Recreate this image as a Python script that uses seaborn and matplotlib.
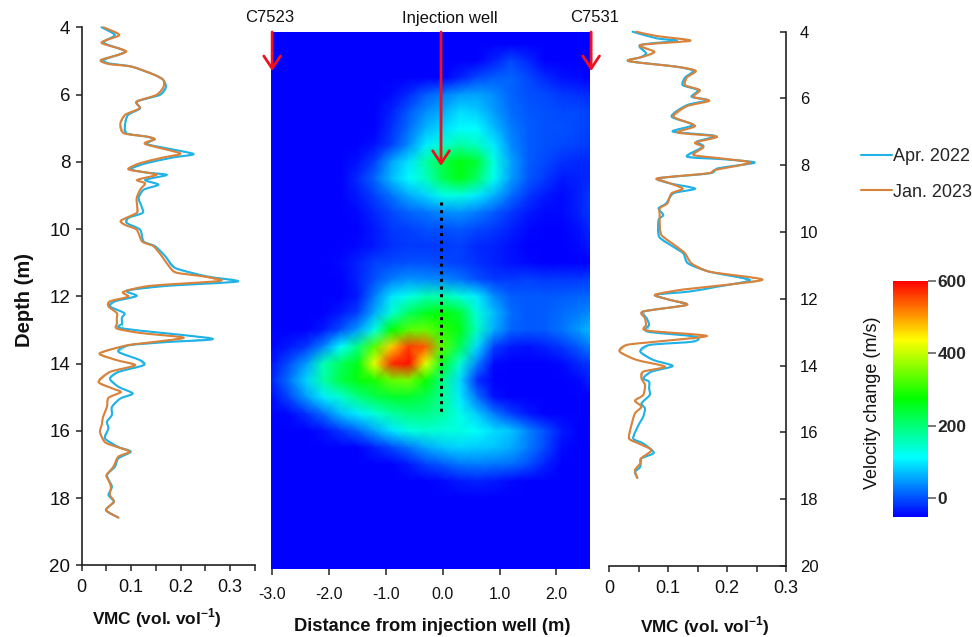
import numpy as np
import pandas as pd
import matplotlib
matplotlib.use("Agg")
import matplotlib.pyplot as plt
from matplotlib.colors import LinearSegmentedColormap
from matplotlib.lines import Line2D
from matplotlib.patches import PathPatch
from matplotlib.path import Path
from matplotlib.ticker import MultipleLocator, FuncFormatter
import seaborn as sns

# ---------- data ----------
APR = "Apr. 2022"
JAN = "Jan. 2023"

left_apr_depth = [4.00,4.23,4.46,4.72,4.97,5.07,5.17,5.42,5.57,5.78,6.01,6.21,6.41,6.60,6.85,7.15,7.25,7.33,7.47,7.60,7.77,7.87,8.04,8.22,8.32,8.39,8.54,8.68,8.83,9.08,9.33,9.52,9.67,9.82,10.02,10.37,10.51,10.81,11.16,11.41,11.56,11.69,11.83,11.99,12.15,12.30,12.50,12.64,12.81,12.96,13.26,13.36,13.46,13.65,13.90,14.05,14.25,14.45,14.69,14.89,15.04,15.29,15.53,15.73,15.93,16.23,16.48,16.62,16.82,17.07,17.32,17.66,17.91,18.11,18.36,18.58]
left_apr_vmc = [.040,.067,.044,.088,.044,.054,.101,.148,.165,.170,.158,.111,.118,.094,.088,.090,.131,.146,.131,.172,.226,.185,.131,.098,.131,.172,.128,.155,.125,.115,.121,.123,.094,.091,.118,.125,.148,.169,.189,.253,.315,.172,.091,.111,.067,.057,.086,.081,.082,.084,.264,.172,.094,.074,.118,.125,.074,.057,.074,.103,.078,.061,.061,.051,.054,.047,.074,.099,.074,.067,.051,.061,.054,.065,.049,.074]

left_jan_depth = [4.00,4.23,4.46,4.72,4.97,5.09,5.17,5.42,5.57,5.78,6.01,6.21,6.41,6.60,6.87,7.15,7.25,7.33,7.47,7.75,7.87,8.04,8.22,8.32,8.39,8.54,8.64,8.83,9.08,9.33,9.52,9.75,9.88,10.02,10.37,10.51,10.81,11.16,11.30,11.41,11.54,11.69,11.87,12.01,12.15,12.30,12.50,12.64,12.81,12.96,13.09,13.23,13.36,13.46,13.70,13.90,14.05,14.25,14.55,14.75,14.85,15.02,15.29,15.59,15.79,16.04,16.34,16.48,16.62,16.77,17.07,17.32,17.47,17.66,17.91,18.11,18.36,18.58]
left_jan_vmc = [.044,.076,.040,.090,.039,.054,.101,.148,.165,.165,.151,.111,.117,.088,.078,.085,.131,.148,.128,.199,.165,.118,.094,.131,.151,.112,.128,.118,.111,.112,.111,.079,.088,.111,.122,.145,.162,.179,.192,.246,.280,.138,.084,.094,.057,.054,.071,.071,.071,.071,.118,.206,.145,.091,.036,.071,.108,.057,.034,.064,.079,.054,.051,.043,.041,.037,.047,.071,.097,.074,.064,.050,.054,.059,.057,.065,.049,.074]

right_apr_depth = [4.00,4.20,4.27,4.40,4.65,4.77,4.88,5.05,5.17,5.37,5.60,5.75,5.95,6.05,6.20,6.54,6.79,6.99,7.12,7.29,7.44,7.74,7.82,7.92,8.09,8.24,8.39,8.54,8.70,8.84,9.14,9.29,9.49,9.64,10.14,10.44,10.64,10.94,11.19,11.44,11.64,11.78,11.88,12.03,12.18,12.38,12.58,12.78,12.98,13.13,13.28,13.38,13.58,13.83,14.01,14.18,14.38,14.48,14.68,14.88,15.13,15.28,15.53,15.78,16.18,16.33,16.61,16.78,17.03,17.18,17.36]
right_apr_vmc = [.040,.081,.115,.053,.063,.053,.033,.115,.143,.129,.125,.151,.140,.168,.132,.106,.143,.108,.180,.149,.160,.132,.194,.247,.185,.171,.084,.103,.146,.109,.097,.084,.092,.084,.085,.109,.126,.134,.171,.239,.182,.137,.078,.103,.132,.058,.064,.068,.065,.146,.143,.069,.053,.075,.108,.072,.058,.068,.068,.069,.055,.061,.058,.050,.041,.058,.076,.055,.053,.044,.048]

right_jan_depth = [4.00,4.13,4.27,4.40,4.60,4.75,4.88,5.05,5.17,5.37,5.60,5.75,5.95,6.07,6.23,6.54,6.82,7.02,7.14,7.32,7.46,7.69,7.79,7.92,8.14,8.24,8.39,8.52,8.70,8.84,9.14,9.29,9.54,9.74,10.09,10.44,10.64,10.94,11.19,11.42,11.59,11.72,11.88,12.03,12.18,12.38,12.58,12.78,12.95,13.11,13.28,13.38,13.58,13.83,14.03,14.18,14.38,14.58,14.88,15.05,15.23,15.43,15.78,16.18,16.33,16.53,16.78,16.93,17.13,17.36]
right_jan_vmc = [.046,.081,.138,.053,.077,.058,.033,.115,.147,.132,.129,.154,.143,.170,.132,.109,.146,.116,.183,.146,.160,.143,.188,.239,.180,.168,.082,.100,.125,.106,.099,.086,.086,.086,.089,.115,.129,.140,.171,.260,.194,.126,.078,.103,.132,.058,.061,.063,.064,.166,.081,.030,.018,.047,.095,.058,.055,.061,.058,.044,.055,.044,.038,.034,.050,.072,.054,.053,.044,.048]

dist_m = [-3.02,-2.7,-2.4,-2.1,-1.8,-1.5,-1.2,-0.9,-0.6,-0.3,0.0,0.3,0.6,0.9,1.2,1.5,1.8,2.1,2.4,2.59]
depth_m = [4.14,4.5,5,5.5,6,6.5,7,7.5,8,8.5,9,9.5,10,10.5,11,11.5,12,12.5,13,13.5,14,14.5,15,15.5,16,16.5,17,17.5,18,20.11]
velocity_change = [
 [-51]*20,
 [-51]*20,
 [-51,-51,-51,-51,-51,-51,-51,-51,-51,-51,-51,-51,-51,-30,-5,-25,-51,-51,-51,-51],
 [-51,-51,-51,-51,-51,-51,-51,-51,-51,-51,-51,-30,-5,10,15,-5,-25,-40,-45,-50],
 [-51,-51,-51,-51,-51,-51,-51,-45,-25,10,30,50,55,40,15,0,-5,-15,-20,-25],
 [-51,-51,-51,-51,-51,-51,-51,-30,5,40,60,90,80,50,20,5,0,-5,-5,-10],
 [-51,-51,-51,-51,-51,-51,-50,-20,20,65,90,110,110,70,30,10,0,0,-5,-10],
 [-51,-51,-51,-51,-51,-51,-40,-10,40,100,140,170,150,100,40,10,0,-5,-10,-15],
 [-51,-51,-51,-51,-51,-40,-10,55,95,170,230,265,240,130,55,10,-5,-20,-25,-25],
 [-51,-51,-51,-51,-50,-25,15,70,110,150,220,260,210,120,50,5,-15,-35,-30,-25],
 [-51,-51,-51,-51,-51,-35,-10,25,60,85,125,130,100,65,20,-15,-35,-45,-30,-15],
 [-51,-51,-51,-51,-51,-45,-25,-5,15,25,40,45,30,10,-15,-35,-45,-45,-30,-15],
 [-51,-51,-51,-51,-51,-51,-35,-15,-10,0,0,5,-5,-15,-30,-45,-50,-50,-40,-25],
 [-51,-51,-51,-51,-51,-45,-35,-20,-15,-15,-15,-10,-25,-30,-40,-50,-51,-51,-45,-35],
 [-51,-51,-51,-51,-45,-30,-10,-5,0,0,-5,-10,-20,-30,-40,-45,-50,-50,-50,-50],
 [-51,-51,-51,-51,-50,-30,0,30,45,40,35,25,0,-15,-15,-10,-15,-15,-15,-10],
 [-51,-51,-51,-51,-51,-35,30,95,125,160,165,135,100,40,10,5,5,10,15,15],
 [-51,-51,-51,-50,-35,-10,60,140,215,255,270,240,135,70,20,5,10,20,30,40],
 [-51,-51,-51,-35,0,50,130,270,330,340,300,260,150,60,15,5,10,25,50,70],
 [-50,-35,-15,35,110,190,330,470,560,540,330,220,90,-10,-35,-40,-30,-15,10,30],
 [-40,0,50,160,215,260,420,570,590,420,250,140,35,-45,-51,-51,-50,-45,-25,-15],
 [-30,25,85,170,230,265,290,340,350,280,190,90,-20,-51,-51,-51,-51,-51,-45,-30],
 [-45,-5,50,100,140,190,225,245,245,225,180,100,25,-40,-50,-51,-51,-51,-51,-51],
 [-51,-45,-20,20,70,100,135,170,190,190,170,125,80,30,-10,-35,-50,-51,-51,-51],
 [-51,-51,-51,-40,-15,15,55,95,130,140,135,130,115,90,75,35,0,-35,-51,-51],
 [-51,-51,-51,-51,-51,-51,-30,-5,25,55,75,85,80,75,60,30,-5,-45,-51,-51],
 [-51,-51,-51,-51,-51,-51,-51,-51,-35,-10,5,25,30,25,20,0,-30,-51,-51,-51],
 [-51,-51,-51,-51,-51,-51,-51,-51,-51,-51,-45,-35,-30,-35,-45,-51,-51,-51,-51,-51],
 [-51]*20,
 [-51]*20,
]

depth_ticks = [4,6,8,10,12,14,16,18,20]
dist_ticks = [-3,-2,-1,0,1,2]
cbar_ticks = [0,200,400,600]

# ---------- style ----------
sns.set_theme(style="white")
plt.rcParams["font.family"] = ["Liberation Sans", "DejaVu Sans"]
plt.rcParams["mathtext.fontset"] = "custom"
plt.rcParams["mathtext.bf"] = "Liberation Sans:bold"
plt.rcParams["mathtext.rm"] = "Liberation Sans"

W, H = 972, 637
INK = "#222222"
TXT = "#111111"
palette = {APR: "#1FB2E6", JAN: "#D9823B"}

fig = plt.figure(figsize=(W/100, H/100), dpi=100)

def px_axes(l, t, r, b):
    return fig.add_axes([l/W, 1-b/H, (r-l)/W, (b-t)/H])

def long_table(a_d, a_v, j_d, j_v):
    return pd.DataFrame({
        "depth": list(a_d)+list(j_d),
        "vmc": list(a_v)+list(j_v),
        "survey": [APR]*len(a_d)+[JAN]*len(j_d),
    })

def smooth_drawn_lines(ax):
    # Same measured vertices as the seaborn line, stroked with curved joins (no added data points).
    for i, line in enumerate(list(ax.get_lines())):
        p = line.get_xydata()
        verts = [p[0]]
        codes = [Path.MOVETO]
        for k in range(len(p)-1):
            a = p[max(k-1, 0)]
            b, c = p[k], p[k+1]
            d = p[min(k+2, len(p)-1)]
            verts += [b+(c-a)/8, c-(d-b)/8, c]
            codes += [Path.CURVE4]*3
        ax.add_patch(PathPatch(Path(verts, codes), fc="none", ec=line.get_color(), lw=1.5,
                               joinstyle="round", capstyle="round", zorder=3+i, clip_on=False))
        line.set_linewidth(0.4)
        line.set_zorder(1)

ax_l = px_axes(81.7, 27.3, 255, 565.3)
ax_h = px_axes(271, 32, 590, 569)
ax_r = px_axes(609, 31.7, 786, 566)
cax = px_axes(892.5, 280.7, 928, 516.7)

for ax, tab in ((ax_l, long_table(left_apr_depth, left_apr_vmc, left_jan_depth, left_jan_vmc)),
                (ax_r, long_table(right_apr_depth, right_apr_vmc, right_jan_depth, right_jan_vmc))):
    sns.lineplot(data=tab, x="vmc", y="depth", hue="survey", palette=palette, ax=ax,
                 sort=False, estimator=None, orient="y", lw=1.5, legend=False, clip_on=False)
    smooth_drawn_lines(ax)
    ax.set_ylim(20, 4)
    ax.set_yticks(depth_ticks)
    ax.xaxis.set_major_locator(MultipleLocator(0.1))
    ax.xaxis.set_minor_locator(MultipleLocator(0.05))
    ax.xaxis.set_major_formatter(FuncFormatter(lambda v, p: "0" if abs(v) < 1e-9 else f"{v:.1f}"))
    ax.set_xlabel("")
    ax.set_ylabel("")
    ax.tick_params(axis="x", which="both", bottom=True, direction="out", length=4, width=1.1,
                   color=INK, labelsize=13, labelcolor=TXT, pad=6)
    ax.spines["top"].set_visible(False)
    for s in ax.spines.values():
        s.set_color(INK)
        s.set_linewidth(1.2)
    ax.patch.set_alpha(0)

ax_l.set_xlim(0, 0.35)
ax_l.spines["right"].set_visible(False)
ax_l.tick_params(axis="y", left=True, direction="out", length=4.2, width=1.1, color=INK, pad=4,
                 labelsize=13.5, labelcolor=TXT)
ax_l.set_ylabel("Depth (m)", fontsize=14.5, fontweight="bold", color=TXT)
ax_l.yaxis.set_label_coords(-0.275, 0.493)

ax_r.set_xlim(0, 0.3)
ax_r.spines["left"].set_visible(False)
ax_r.yaxis.tick_right()
ax_r.tick_params(axis="y", right=True, left=False, direction="in", length=4.2, width=1.1, color=INK, pad=10,
                 labelsize=12, labelcolor=TXT)

vmc_label = r"VMC (vol. vol$^{\mathbf{-1}}$)"
fig.text(157/W, 1-618/H, vmc_label, ha="center", va="center", fontsize=12.4, fontweight="bold", color=TXT)
fig.text(704.5/W, 1-626/H, vmc_label, ha="center", va="center", fontsize=12.4, fontweight="bold", color=TXT)

# ---------- velocity-change field ----------
stops = LinearSegmentedColormap.from_list("vel", ["#0000ff", "#00ffff", "#00ff00", "#ffff00", "#ff0000"])
field = pd.DataFrame(velocity_change, index=depth_m, columns=dist_m)
mesh = ax_h.pcolormesh(field.columns.values, field.index.values, field.values,
                       shading="gouraud", cmap=stops, vmin=-51, vmax=600, rasterized=True)
ax_h.set_xlim(-3.02, 2.59)
ax_h.set_ylim(20.11, 4.14)
ax_h.set_yticks([])
ax_h.set_xticks(dist_ticks)
ax_h.set_xticklabels([f"{t:.1f}" for t in dist_ticks])
ax_h.tick_params(axis="x", bottom=True, direction="out", length=4, width=1.1, color=INK,
                 labelsize=11.5, labelcolor=TXT, pad=9)
for s in ax_h.spines.values():
    s.set_visible(False)
ax_h.set_xlabel("Distance from injection well (m)", fontsize=13.2, fontweight="bold", color=TXT)
ax_h.xaxis.set_label_coords(0.505, -0.092)

arrow = dict(arrowstyle="->,head_length=0.75,head_width=0.5", color="#F01020", lw=2.0,
             shrinkA=0, shrinkB=0, clip_on=False)
for x, end in ((-3.0, 5.3), (-0.03, 8.12), (2.61, 5.3)):
    ax_h.annotate("", xy=(x, end), xytext=(x, 4.14), arrowprops=arrow, annotation_clip=False)
ax_h.plot([-0.03, -0.03], [9.19, 15.49], color="black", lw=2.2, ls=(0, (1, 1.5)))

for x, label in ((270, "C7523"), (450, "Injection well"), (595, "C7531")):
    fig.text(x/W, 1-18/H, label, ha="center", va="center", fontsize=12, color=TXT)

# ---------- colour bar ----------
cb = fig.colorbar(mesh, cax=cax, ticks=cbar_ticks)
cb.outline.set_visible(False)
cax.tick_params(axis="y", right=True, direction="out", length=6, width=1.1, color="#555555", pad=1, labelsize=12.5)
for t in cax.get_yticklabels():
    t.set_fontweight("bold")
fig.text(872/W, 1-403/H, "Velocity change (m/s)", rotation=90, ha="center", va="center",
         fontsize=13, color=TXT)

# ---------- legend ----------
handles = [Line2D([], [], color=palette[APR], lw=1.5), Line2D([], [], color=palette[JAN], lw=1.5)]
fig.legend(handles, [APR, JAN], loc="center left", bbox_to_anchor=(861/W, 1-174.5/H), frameon=False,
           fontsize=13, handlelength=1.72, handletextpad=0.05, labelspacing=1.0, borderpad=0, borderaxespad=0)

fig.savefig("out.png", dpi=100)
